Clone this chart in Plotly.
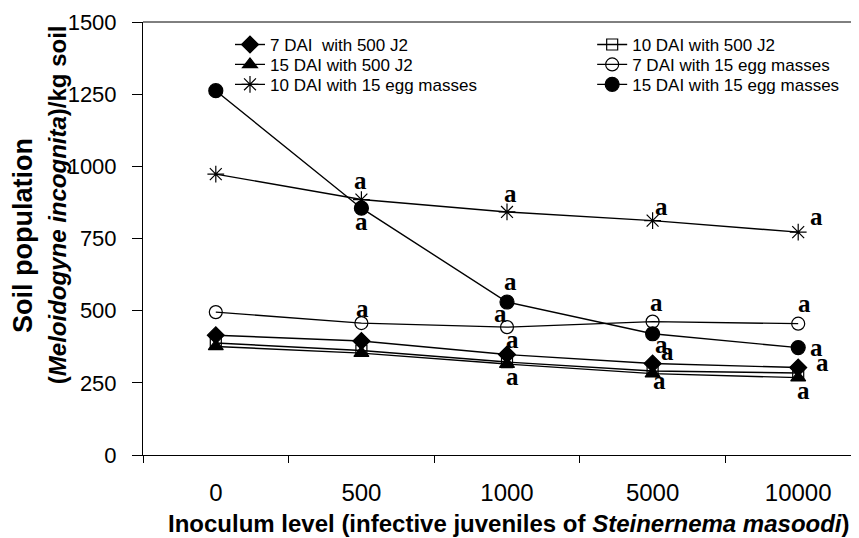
import plotly.graph_objects as go

# ---- data ----
categories = ["0", "500", "1000", "5000", "10000"]
dai7_j2 = [415, 395, 348, 317, 303]
dai10_j2 = [388, 362, 322, 291, 284]
dai15_j2 = [376, 353, 315, 282, 268]
dai7_egg = [495, 457, 443, 462, 455]
dai10_egg = [973, 885, 842, 812, 772]
dai15_egg = [1262, 855, 530, 420, 372]
y_ticks = [0, 250, 500, 750, 1000, 1250, 1500]

series_names = [
    "7 DAI  with 500 J2",
    "10 DAI with 500 J2",
    "15 DAI with 500 J2",
    "7 DAI with 15 egg masses",
    "10 DAI with 15 egg masses",
    "15 DAI with 15 egg masses",
]
series_values = [dai7_j2, dai10_j2, dai15_j2, dai7_egg, dai10_egg, dai15_egg]

# significance letters: which series/category they belong to
letter_series = [4, 5, 3, 4, 5, 3, 0, 2, 4, 3, 5, 0, 2, 4, 3, 5, 0, 2]
letter_cats = ["500", "500", "500", "1000", "1000", "1000", "1000", "1000",
               "5000", "5000", "5000", "5000", "5000",
               "10000", "10000", "10000", "10000", "10000"]
letter_text = ["a"] * len(letter_series)

# ---- styles ----
symbols = ["diamond", "square-open", "triangle-up", "circle-open", "asterisk-open", "circle"]
sizes = [13, 11, 13, 13, 14, 14]
letter_dx = [-1, 0, 1, 3, 3, -7, 5, 5, 9, 4, 9, 15, 7, 18, 6, 18, 24, 5]
letter_dy = [15, -17, 11, 14, 17, 10, 11, -16, 10, 15, -15, 8, -11, 12, 16, -4, 1, -17]
legend_names = ["legend", "legend2", "legend3", "legend4", "legend5", "legend6"]
legend_x = [0.1195, 0.617, 0.1195, 0.617, 0.1195, 0.617]
legend_y = [0.947, 0.947, 0.901, 0.901, 0.855, 0.855]

SANS = "Liberation Sans, Arial, sans-serif"
SERIF = "Liberation Serif, Times New Roman, serif"

fig = go.Figure()
for i, (name, vals) in enumerate(zip(series_names, series_values)):
    fig.add_trace(go.Scatter(
        x=categories, y=vals, name=name, mode="lines+markers",
        line=dict(color="black", width=1.4),
        marker=dict(symbol=symbols[i], size=sizes[i], color="black",
                    line=dict(color="black", width=1.2)),
        legend=legend_names[i],
    ))

annotations = []
for s, c, t, dx, dy in zip(letter_series, letter_cats, letter_text, letter_dx, letter_dy):
    ci = categories.index(c)
    yv = series_values[s][ci]
    annotations.append(dict(
        x=ci, y=yv, xref="x", yref="y", text=t, showarrow=False,
        xshift=dx, yshift=dy + 4,
        font=dict(family=SERIF, size=25, color="black", weight="bold"),
    ))

# axis titles
annotations.append(dict(
    x=0.503, y=-0.159, xref="paper", yref="paper", showarrow=False,
    text="Inoculum level (infective juveniles of <i>Steinernema masoodi</i>)",
    font=dict(family=SANS, size=24, color="black", weight="bold"),
    xanchor="center", yanchor="middle",
))
annotations.append(dict(
    x=0, y=0.506, xref="paper", yref="paper", showarrow=False, xshift=-120,
    text="Soil population", textangle=-90,
    font=dict(family=SANS, size=27, color="black", weight="bold"),
    xanchor="center", yanchor="middle",
))
annotations.append(dict(
    x=0, y=0.577, xref="paper", yref="paper", showarrow=False, xshift=-86,
    text="(<i>Meloidogyne incognita</i>)/kg soil", textangle=-90,
    font=dict(family=SANS, size=24, color="black", weight="bold"),
    xanchor="center", yanchor="middle",
))

layout_legends = {}
for ln, lx, ly in zip(legend_names, legend_x, legend_y):
    layout_legends[ln] = dict(
        x=lx, y=ly, xanchor="left", yanchor="middle",
        font=dict(family=SANS, size=17, color="black"),
        bgcolor="rgba(0,0,0,0)", borderwidth=0, itemwidth=30,
    )

# the page body adds an 8px offset; the reference plot area runs past the right edge
fig.update_layout(
    width=863, height=538,
    margin=dict(l=135, r=0, t=14, b=91, pad=0),
    paper_bgcolor="white", plot_bgcolor="white",
    showlegend=True,
    annotations=annotations,
    shapes=[dict(type="line", xref="paper", yref="paper", x0=0, x1=1, y0=1, y1=1,
                 line=dict(color="black", width=1))],
    xaxis=dict(
        type="category", categoryorder="array", categoryarray=categories,
        range=[-0.5, 4.5], showline=True, linecolor="black", linewidth=1,
        ticks="outside", tickson="boundaries", ticklen=7, tickcolor="black",
        tickfont=dict(family=SANS, size=24, color="black"),
        ticklabelstandoff=16, showgrid=False, zeroline=False,
    ),
    yaxis=dict(
        range=[0, 1500], tickvals=y_ticks, showline=True, linecolor="black",
        linewidth=1, ticks="outside", ticklen=10, tickcolor="black",
        tickfont=dict(family=SANS, size=22, color="black"),
        ticklabelstandoff=11, showgrid=False, zeroline=False,
    ),
    **layout_legends,
)

fig.write_html("out.html")
